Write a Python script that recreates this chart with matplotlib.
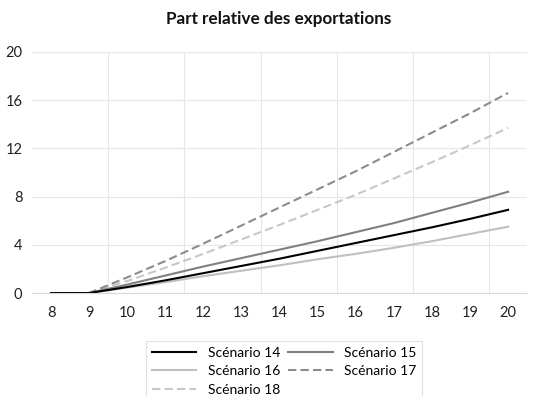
import numpy as np
import matplotlib.pyplot as plt

plt.rcParams['font.family'] = ['Lato', 'DejaVu Sans']

periods = [8, 9, 10, 11, 12, 13, 14, 15, 16, 17, 18, 19, 20]
scen14 = [0, 0, 0.5, 1.05, 1.65, 2.25, 2.85, 3.5, 4.15, 4.8, 5.45, 6.15, 6.9]
scen15 = [0, 0, 0.7, 1.45, 2.2, 2.9, 3.6, 4.3, 5.05, 5.8, 6.65, 7.5, 8.4]
scen16 = [0, 0, 0.45, 0.9, 1.4, 1.85, 2.3, 2.8, 3.25, 3.75, 4.3, 4.9, 5.5]
scen17 = [0, 0, 1.3, 2.65, 4.1, 5.6, 7.1, 8.6, 10.1, 11.7, 13.3, 14.9, 16.6]
scen18 = [0, 0, 1.0, 2.1, 3.25, 4.45, 5.65, 6.9, 8.15, 9.5, 10.85, 12.25, 13.7]
yticks = [0, 4, 8, 12, 16, 20]

fig = plt.figure(figsize=(5.33, 3.96), dpi=100)
ax = fig.add_axes([0.060, 0.260, 0.929, 0.609])

series = [
    ("Scénario 14", scen14, "#000000", "-"),
    ("Scénario 15", scen15, "#808080", "-"),
    ("Scénario 16", scen16, "#c0c0c0", "-"),
    ("Scénario 17", scen17, "#8c8c8c", (0, (4, 2))),
    ("Scénario 18", scen18, "#c8c8c8", (0, (4, 2))),
]
lines = {}
# lighter ones first so the black line stays on top
for name, vals, col, ls in series[::-1]:
    lines[name], = ax.plot(periods, vals, color=col, linestyle=ls, lw=1.5, label=name)

ax.set_xlim(7.5, 20.5)
ax.set_ylim(0, 20)
ax.set_xticks(periods)
ax.set_xticks(np.arange(9.5, 20.5, 2), minor=True)
ax.set_yticks(yticks)
ax.tick_params(axis='both', which='both', length=0, labelsize=10.5, colors='#222222')
ax.tick_params(axis='x', pad=9)
ax.tick_params(axis='y', pad=7)
ax.grid(axis='y', color='#e6e6e6', lw=0.8)
ax.grid(axis='x', which='minor', color='#e6e6e6', lw=0.8)
ax.grid(axis='x', which='major', visible=False)
for s in ['top', 'right', 'left']:
    ax.spines[s].set_visible(False)
ax.spines['bottom'].set_color('#d9d9d9')

fig.text(0.523, 0.953, "Part relative des exportations", ha='center', va='center',
         fontsize=12.3, fontweight='bold', color='#111111')

# legend filled row by row: column 1 = 14, 16, 18 ; column 2 = 15, 17
order = ["Scénario 14", "Scénario 16", "Scénario 18", "Scénario 15", "Scénario 17"]
leg = fig.legend([lines[n] for n in order], order,
                 loc='upper center', bbox_to_anchor=(0.533, 0.157), ncol=2,
                 fontsize=10, frameon=True, fancybox=False, handlelength=3.2,
                 columnspacing=0.6, labelspacing=0.45, borderpad=0.45)
leg.get_frame().set_edgecolor('#d9d9d9')
leg.get_frame().set_linewidth(0.8)

fig.savefig("out.png", dpi=100)
